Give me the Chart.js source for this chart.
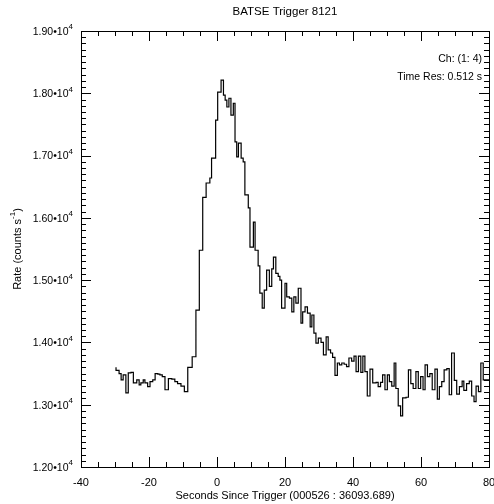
<!DOCTYPE html>
<html>
<head>
<meta charset="utf-8">
<script src="https://cdn.jsdelivr.net/npm/chart.js@4.4.1/dist/chart.umd.min.js"></script>
<style>
    html, body { margin: 0; padding: 0; background: #fff; }
</style>
</head>
<body>
<canvas id="grafico-batse" width="494" height="504"></canvas>
<script>

// curva de luz: inicio de cada bin (s desde o trigger) e taxa (counts/s)
var tempos = [
    -29.7, -28.8, -28.2, -27.6, -26.8, -26.1, -25.3, -24.6, -23.6, -22.9,
    -22.4, -21.7, -21.2, -20.4, -19.7, -18.9, -18.2, -17.4, -16.8, -16.1,
    -15.3, -14.3, -13.3, -12.4, -11.6, -10.6, -9.6, -8.6, -7.3, -6.2,
    -5.2, -4.2, -3.2, -2.1, -1.6, -0.4, 0.2, 1.2, 1.9, 2.4,
    2.9, 3.5, 4.1, 4.8, 5.3, 5.8, 6.3, 7.1, 7.7, 8.2,
    9.2, 9.7, 10.7, 11.2, 12.1, 12.6, 13.3, 13.9, 14.6, 15.4,
    16.1, 16.6, 17.3, 18.0, 18.5, 19.0, 20.0, 20.5, 21.3, 22.0,
    22.6, 23.2, 23.9, 24.7, 25.2, 25.9, 26.6, 27.4, 27.9, 28.5,
    29.1, 29.8, 30.6, 31.3, 32.1, 32.7, 33.4, 34.0, 34.7, 35.4,
    36.0, 36.7, 37.4, 38.1, 38.8, 39.6, 40.3, 40.9, 41.6, 42.3,
    42.9, 43.5, 44.2, 45.0, 45.8, 46.8, 47.4, 48.1, 48.7, 49.4,
    50.1, 50.7, 51.4, 52.1, 52.6, 53.3, 54.0, 54.6, 55.6, 56.3,
    57.0, 57.7, 58.5, 59.2, 59.9, 60.6, 61.2, 61.9, 62.6, 63.3,
    64.1, 64.8, 65.4, 66.1, 66.8, 67.6, 68.3, 69.0, 69.8, 70.5,
    71.3, 72.1, 72.6, 73.4, 74.2, 74.9, 75.6, 76.2, 76.9, 77.6,
    78.3, 78.8, 80.0
];
var taxas = [
    13600, 13550, 13500, 13400, 13480, 13190, 13510, 13520, 13350, 13400,
    13320, 13350, 13400, 13350, 13290, 13370, 13400, 13500, 13490, 13480,
    13450, 13240, 13420, 13410, 13370, 13340, 13300, 13210, 13600, 13770,
    14520, 15480, 16330, 16560, 16640, 16960, 17570, 18020, 18210, 17970,
    17890, 17780, 17920, 17650, 17840, 17220, 16980, 17200, 16960, 16900,
    16370, 16160, 15530, 15930, 15480, 15230, 14790, 14550, 14840, 15160,
    14900, 15180, 15370, 15110, 15060, 15000, 14550, 14950, 14730, 14710,
    14490, 14730, 14630, 14870, 14310, 14490, 14570, 14470, 14250, 14440,
    14150, 13990, 14070, 14000, 13800, 14090, 13880, 13830, 13760, 13470,
    13670, 13640, 13670, 13650, 13610, 13750, 13700, 13780, 13530, 13780,
    13520, 13780, 13530, 13140, 13570, 13350, 13360, 13290, 13360, 13480,
    13240, 13480, 13370, 13300, 13670, 13260, 12980, 12820, 13110, 13120,
    13560, 13340, 13260, 13530, 13260, 13450, 13240, 13640, 13450, 13500,
    13240, 13570, 13090, 13290, 13370, 13560, 13580, 13160, 13830, 13390,
    13170, 13290, 13380, 13230, 13340, 13380, 13140, 13050, 13300, 13210,
    13670, 13400, 13400
];

var ticksX = [-40, -20, 0, 20, 40, 60, 80];
var rotulosX = ['-40', '-20', '0', '20', '40', '60', '80'];
var ticksY = [12000, 13000, 14000, 15000, 16000, 17000, 18000, 19000];
var rotulosY = ['1.20', '1.30', '1.40', '1.50', '1.60', '1.70', '1.80', '1.90'];

const fonte = '"Liberation Sans", Arial, Helvetica, sans-serif';

// escreve texto com partes em expoente (ex: 10^4, s^-1)
function textoComExpoente(ctx, partes, x, y, alinhamento, tamanho) {
    var tamExp = Math.round(tamanho * 0.75);
    var larguras = partes.map(function (p) {
        ctx.font = (p[1] ? tamExp : tamanho) + 'px ' + fonte;
        return ctx.measureText(p[0]).width;
    });
    var total = larguras.reduce(function (a, b) { return a + b; }, 0);
    var inicio = x;
    if (alinhamento == 'right') inicio = x - total;
    if (alinhamento == 'center') inicio = x - total / 2;
    ctx.textAlign = 'left';
    ctx.textBaseline = 'middle';
    for (var i = 0; i < partes.length; i++) {
        ctx.font = (partes[i][1] ? tamExp : tamanho) + 'px ' + fonte;
        ctx.fillText(partes[i][0], inicio, partes[i][1] ? y - tamanho * 0.45 : y);
        inicio += larguras[i];
    }
}

const moldura = {
    id: 'moldura',
    afterDraw: function (chart) {
        var ctx = chart.ctx;
        var area = chart.chartArea;
        var escX = chart.scales.x;
        var escY = chart.scales.y;
        ctx.save();
        ctx.strokeStyle = '#000';
        ctx.fillStyle = '#000';
        ctx.lineWidth = 1;

        ctx.strokeRect(Math.round(area.left) + 0.5, Math.round(area.top) + 0.5,
            Math.round(area.right - area.left), Math.round(area.bottom - area.top));

        // marcas do eixo x (para dentro, em baixo e em cima)
        ctx.beginPath();
        for (var t = -40; t <= 80; t += 5) {
            var px = Math.round(escX.getPixelForValue(t)) + 0.5;
            var tam = (t % 20 == 0) ? 10 : 5;
            ctx.moveTo(px, area.bottom); ctx.lineTo(px, area.bottom - tam);
            ctx.moveTo(px, area.top); ctx.lineTo(px, area.top + tam);
        }
        // marcas do eixo y (para dentro, esquerda e direita)
        for (var v = 12000; v <= 19000; v += 100) {
            var py = Math.round(escY.getPixelForValue(v)) + 0.5;
            var tamY = (v % 1000 == 0) ? 10 : 5;
            ctx.moveTo(area.left, py); ctx.lineTo(area.left + tamY, py);
            ctx.moveTo(area.right, py); ctx.lineTo(area.right - tamY, py);
        }
        ctx.stroke();

        ctx.font = '11px ' + fonte;
        ctx.textAlign = 'center';
        ctx.textBaseline = 'middle';
        for (var i = 0; i < ticksX.length; i++) {
            ctx.fillText(rotulosX[i], escX.getPixelForValue(ticksX[i]), area.bottom + 16);
        }
        for (var j = 0; j < ticksY.length; j++) {
            textoComExpoente(ctx, [[rotulosY[j] + '\u202210', false], ['4', true]],
                area.left - 8, escY.getPixelForValue(ticksY[j]) + 1, 'right', 10.5);
        }

        // titulo e textos
        var centro = (area.left + area.right) / 2;
        ctx.font = '11.5px ' + fonte;
        ctx.textAlign = 'center';
        ctx.textBaseline = 'middle';
        ctx.fillText('BATSE Trigger 8121', centro, 12);
        ctx.font = '11px ' + fonte;
        ctx.fillText('Seconds Since Trigger (000526 : 36093.689)', centro, 496);

        ctx.font = '10.5px ' + fonte;
        ctx.textAlign = 'right';
        ctx.fillText('Ch: (1: 4)', 482, 59);
        ctx.fillText('Time Res: 0.512 s', 482, 77);

        ctx.translate(18, (area.top + area.bottom) / 2);
        ctx.rotate(-Math.PI / 2);
        textoComExpoente(ctx, [['Rate (counts s', false], ['-1', true], [')', false]], 0, 0, 'center', 11);
        ctx.restore();
    }
};

var pontos = tempos.map(function (t, i) { return { x: t, y: taxas[i] }; });

const grafico = new Chart(document.getElementById('grafico-batse'), {
    type: 'line',
    data: {
        datasets: [{
            data: pontos,
            stepped: 'after',
            borderColor: '#000',
            borderWidth: 1.2,
            pointRadius: 0,
            fill: false
        }]
    },
    options: {
        responsive: false,
        animation: false,
        devicePixelRatio: 1,
        layout: { padding: { left: 81, right: 5, top: 31, bottom: 37 } },
        plugins: {
            legend: { display: false },
            tooltip: { enabled: false }
        },
        scales: {
            x: { type: 'linear', min: -40, max: 80, display: false },
            y: { type: 'linear', min: 12000, max: 19000, display: false }
        }
    },
    plugins: [moldura]
});
</script>
</body>
</html>
